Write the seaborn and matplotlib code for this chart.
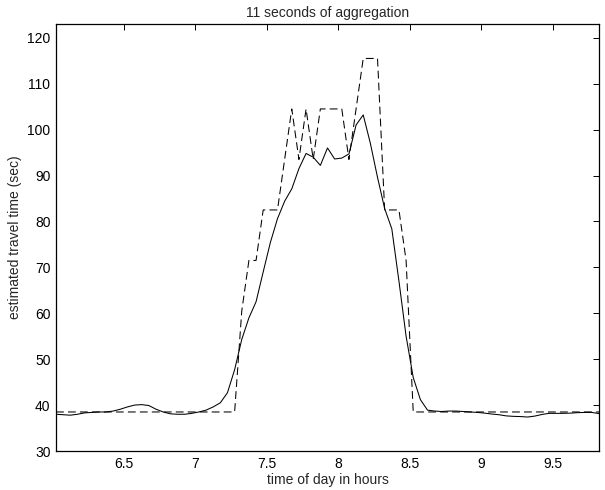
import matplotlib
matplotlib.use("Agg")
import matplotlib.pyplot as plt
import seaborn as sns
import pandas as pd

# sample times (hours), every 3 minutes
hours = [6.025, 6.075, 6.125, 6.175, 6.225, 6.275, 6.325, 6.375, 6.425, 6.475,
         6.525, 6.575, 6.625, 6.675, 6.725, 6.775, 6.825, 6.875, 6.925, 6.975,
         7.025, 7.075, 7.125, 7.175, 7.225, 7.275, 7.325, 7.375, 7.425, 7.475,
         7.525, 7.575, 7.625, 7.675, 7.725, 7.775, 7.825, 7.875, 7.925, 7.975,
         8.025, 8.075, 8.125, 8.175, 8.225, 8.275, 8.325, 8.375, 8.425, 8.475,
         8.525, 8.575, 8.625, 8.675, 8.725, 8.775, 8.825, 8.875, 8.925, 8.975,
         9.025, 9.075, 9.125, 9.175, 9.225, 9.275, 9.325, 9.375, 9.425, 9.475,
         9.525, 9.575, 9.625, 9.675, 9.725, 9.775, 9.825]

# estimated travel time (solid line)
estimated = [38.0, 37.9, 37.8, 38.0, 38.3, 38.4, 38.5, 38.5, 38.7, 39.1,
             39.6, 40.0, 40.1, 39.9, 39.1, 38.5, 38.1, 38.0, 38.0, 38.2,
             38.5, 38.9, 39.6, 40.5, 42.7, 47.7, 54.3, 59.0, 62.5, 69.0,
             75.4, 80.6, 84.4, 87.1, 91.5, 94.8, 94.0, 92.2, 96.0, 93.6,
             93.8, 94.7, 101.0, 103.2, 97.0, 89.6, 82.8, 78.4, 67.0, 55.0,
             46.0, 41.2, 38.9, 38.7, 38.6, 38.7, 38.7, 38.6, 38.5, 38.4,
             38.25, 38.05, 37.9, 37.65, 37.55, 37.5, 37.4, 37.6, 37.95, 38.2,
             38.2, 38.2, 38.25, 38.35, 38.4, 38.4, 38.15]

# 11-second aggregated travel time (dashed line)
aggregated = [38.5] * 25 + [
              38.5, 60.5, 71.5, 71.5, 82.5, 82.5, 82.5, 93.5, 104.5, 93.5,
              104.5, 93.5, 104.5, 104.5, 104.5, 104.5, 93.5, 104.5, 115.5, 115.5,
              115.5, 82.5, 82.5, 82.5, 71.5, 38.5] + [38.5] * 26

x_ticks = [6.5, 7, 7.5, 8, 8.5, 9, 9.5]
x_tick_labels = ["6.5", "7", "7.5", "8", "8.5", "9", "9.5"]
y_ticks = [30, 40, 50, 60, 70, 80, 90, 100, 110, 120]

sns.set_theme(style="white")
plt.rcParams["font.family"] = ["Liberation Sans", "DejaVu Sans"]
plt.rcParams["xtick.direction"] = "in"
plt.rcParams["ytick.direction"] = "in"

df = pd.DataFrame({
    "hours": hours * 2,
    "value": estimated + aggregated,
    "series": ["estimated"] * len(hours) + ["aggregated"] * len(hours),
})

fig = plt.figure(figsize=(6.05, 4.90), dpi=100)
ax = fig.add_axes([56 / 605, 39 / 490, 543 / 605, 427 / 490])

sns.lineplot(data=df, x="hours", y="value", hue="series", style="series",
             palette={"estimated": "black", "aggregated": "black"},
             dashes={"estimated": "", "aggregated": (7.5, 4.0)},
             linewidth=0.75, legend=False, ax=ax, sort=False)

ax.set_xlim(6.025, 9.825)
ax.set_ylim(30, 123)
ax.set_xticks(x_ticks)
ax.set_xticklabels(x_tick_labels)
ax.set_yticks(y_ticks)
ax.tick_params(axis="both", which="both", direction="in", length=4, width=0.7,
               top=True, right=True, labelsize=10, colors="black", pad=4)
for s in ax.spines.values():
    s.set_visible(True)
    s.set_color("black")
    s.set_linewidth(0.9)

ax.set_xlabel("time of day in hours", fontsize=10, labelpad=2)
ax.set_ylabel("estimated travel time (sec)", fontsize=10, labelpad=4)
ax.set_title("11 seconds of aggregation", fontsize=10, pad=5)

fig.savefig("out.png", dpi=100, facecolor="white")
